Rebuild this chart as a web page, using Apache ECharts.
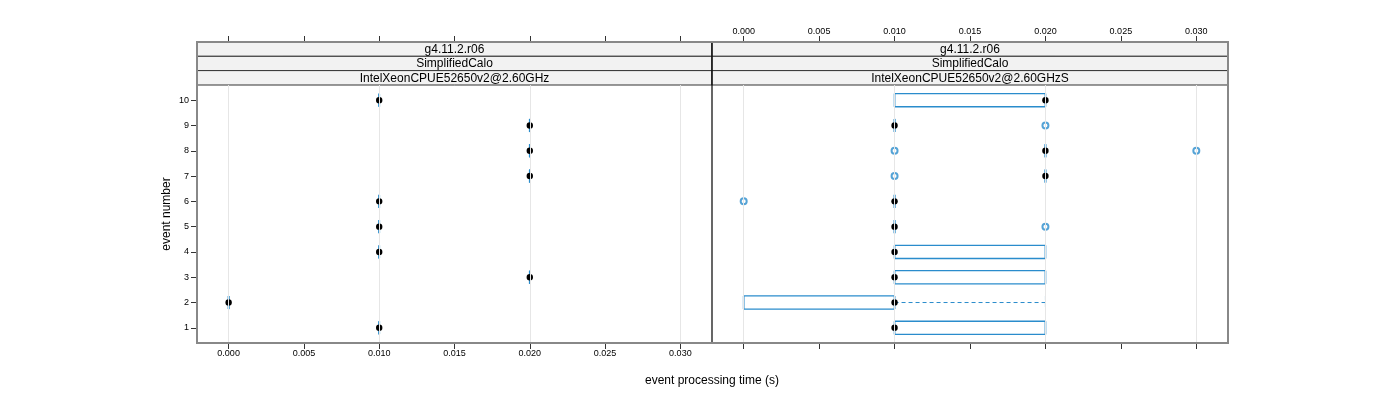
<!DOCTYPE html>
<html><head><meta charset="utf-8">
<script src="https://cdn.jsdelivr.net/npm/echarts@6/dist/echarts.min.js"></script>
<style>html,body{margin:0;padding:0;background:#fff}#c{width:1400px;height:400px}</style>
</head><body><div id="c"></div>
<script>
// ---- data ----
const events = [1, 2, 3, 4, 5, 6, 7, 8, 9, 10];
const xTicks = [0, 0.005, 0.010, 0.015, 0.020, 0.025, 0.030];
const yTicks = [1, 2, 3, 4, 5, 6, 7, 8, 9, 10];
const stripLevel1 = ['g4.11.2.r06', 'g4.11.2.r06'];
const stripLevel2 = ['SimplifiedCalo', 'SimplifiedCalo'];
const stripLevel3 = ['IntelXeonCPUE52650v2@2.60GHz', 'IntelXeonCPUE52650v2@2.60GHzS'];
// left panel (all quantiles equal)
const leftLow  = [0.01, 0.00, 0.02, 0.01, 0.01, 0.01, 0.02, 0.02, 0.02, 0.01];
const leftQ1   = [0.01, 0.00, 0.02, 0.01, 0.01, 0.01, 0.02, 0.02, 0.02, 0.01];
const leftMed  = [0.01, 0.00, 0.02, 0.01, 0.01, 0.01, 0.02, 0.02, 0.02, 0.01];
const leftQ3   = [0.01, 0.00, 0.02, 0.01, 0.01, 0.01, 0.02, 0.02, 0.02, 0.01];
const leftHigh = [0.01, 0.00, 0.02, 0.01, 0.01, 0.01, 0.02, 0.02, 0.02, 0.01];
const leftOutliers = [];
// right panel
const rightLow  = [0.01, 0.00, 0.01, 0.01, 0.01, 0.01, 0.02, 0.02, 0.01, 0.01];
const rightQ1   = [0.01, 0.00, 0.01, 0.01, 0.01, 0.01, 0.02, 0.02, 0.01, 0.01];
const rightMed  = [0.01, 0.01, 0.01, 0.01, 0.01, 0.01, 0.02, 0.02, 0.01, 0.02];
const rightQ3   = [0.02, 0.01, 0.02, 0.02, 0.01, 0.01, 0.02, 0.02, 0.01, 0.02];
const rightHigh = [0.02, 0.02, 0.02, 0.02, 0.01, 0.01, 0.02, 0.02, 0.01, 0.02];
const rightOutliers = [[0.02, 5], [0.00, 6], [0.01, 7], [0.01, 8], [0.03, 8], [0.02, 9]];

const BLUE = '#2a8ccc';
const FONT = 'Liberation Sans';
const X_MIN = -0.0021, X_MAX = 0.0321;
const PANEL_TOP = 85, PANEL_BOTTOM = 343, FRAME_TOP = 42;
const P = [{left: 197, right: 712}, {left: 712, right: 1228}];

function boxData(lo, q1, med, q3, hi) {
  return events.map((e, i) => [e, lo[i], q1[i], med[i], q3[i], hi[i]]);
}

function renderBox(params, api) {
  const y = api.value(0);
  const lo = api.value(1), q1 = api.value(2), med = api.value(3), q3 = api.value(4), hi = api.value(5);
  const h = api.size([0, 1])[1] * 0.52;
  const pLo = api.coord([lo, y]), pQ1 = api.coord([q1, y]), pMed = api.coord([med, y]);
  const pQ3 = api.coord([q3, y]), pHi = api.coord([hi, y]);
  const cy = pMed[1];
  const t = cy - h / 2, b = cy + h / 2;
  const children = [];
  const dashed = {stroke: BLUE, lineWidth: 1, lineDash: [4, 3], fill: null};
  const solid = {stroke: BLUE, lineWidth: 1.3, fill: null};
  const vert = {stroke: BLUE, lineWidth: 1.7, fill: null};
  if (pQ1[0] - pLo[0] > 0.5) {
    children.push({type: 'line', shape: {x1: pLo[0], y1: cy, x2: pQ1[0], y2: cy}, style: dashed});
    children.push({type: 'line', shape: {x1: pLo[0], y1: t, x2: pLo[0], y2: b}, style: dashed});
  }
  if (pHi[0] - pQ3[0] > 0.5) {
    children.push({type: 'line', shape: {x1: pQ3[0], y1: cy, x2: pHi[0], y2: cy}, style: dashed});
    children.push({type: 'line', shape: {x1: pHi[0], y1: t, x2: pHi[0], y2: b}, style: dashed});
  }
  children.push({type: 'line', shape: {x1: pQ1[0], y1: t, x2: pQ1[0], y2: b}, style: vert});
  children.push({type: 'line', shape: {x1: pQ3[0], y1: t, x2: pQ3[0], y2: b}, style: vert});
  if (pQ3[0] - pQ1[0] > 0.5) {
    children.push({type: 'line', shape: {x1: pQ1[0], y1: t, x2: pQ3[0], y2: t}, style: solid});
    children.push({type: 'line', shape: {x1: pQ1[0], y1: b, x2: pQ3[0], y2: b}, style: solid});
  }
  children.push({type: 'circle', shape: {cx: pMed[0], cy: cy, r: 3.2}, style: {fill: '#000'}});
  return {type: 'group', children: children};
}

const gridLineMark = {
  silent: true, symbol: 'none', animation: false,
  label: {show: false},
  lineStyle: {color: '#e6e6e6', type: 'solid', width: 1},
  data: xTicks.map(v => ({xAxis: v}))
};

function xAxisDef(gridIndex, position, showLabel) {
  return {
    type: 'value', gridIndex: gridIndex, position: position, min: X_MIN, max: X_MAX,
    offset: position === 'top' ? (PANEL_TOP - FRAME_TOP) : 0,
    axisLine: {show: false, onZero: false},
    splitLine: {show: false},
    axisTick: {show: true, customValues: xTicks, length: 6, inside: false, lineStyle: {color: '#333', width: 1}},
    axisLabel: {show: showLabel, customValues: xTicks, formatter: v => v.toFixed(3), color: '#000', fontSize: 9, fontFamily: FONT, margin: 6}
  };
}

const chart = echarts.init(document.getElementById('c'), null, {renderer: 'canvas'});

// strips
const graphics = [];
const stripY = [42, 56.3, 70.6, 85];
const strips = [stripLevel1, stripLevel2, stripLevel3];
P.forEach((p, pi) => {
  strips.forEach((lev, li) => {
    graphics.push({type: 'rect', shape: {x: p.left, y: stripY[li], width: p.right - p.left, height: stripY[li + 1] - stripY[li]},
      style: {fill: '#f2f2f2', stroke: '#333', lineWidth: 1}, z: 1});
    graphics.push({type: 'text', x: (p.left + p.right) / 2, y: (stripY[li] + stripY[li + 1]) / 2 + 0.5,
      style: {text: lev[pi], fill: '#000', font: '12px "' + FONT + '"', align: 'center', verticalAlign: 'middle'}, z: 2});
  });
});
graphics.push({type: 'line', shape: {x1: 712, y1: 42, x2: 712, y2: 343}, style: {stroke: '#000', lineWidth: 1.2}, z: 10});
graphics.push({type: 'rect', shape: {x: 197, y: 42, width: 1031, height: 301}, style: {fill: null, stroke: '#888', lineWidth: 2}, z: 11});
graphics.push({type: 'text', x: 712, y: 381, style: {text: 'event processing time (s)', fill: '#000', font: '12px "' + FONT + '"', align: 'center', verticalAlign: 'middle'}});
graphics.push({type: 'text', x: 167, y: 214, rotation: Math.PI / 2,
  style: {text: 'event number', fill: '#000', font: '12px "' + FONT + '"', align: 'center', verticalAlign: 'middle'}});

chart.setOption({
  animation: false,
  backgroundColor: '#fff',
  graphic: graphics,
  grid: [
    {left: 197, width: 515, top: PANEL_TOP, height: PANEL_BOTTOM - PANEL_TOP, show: false},
    {left: 712, width: 516, top: PANEL_TOP, height: PANEL_BOTTOM - PANEL_TOP, show: false}
  ],
  xAxis: [
    xAxisDef(0, 'bottom', true),
    xAxisDef(0, 'top', false),
    xAxisDef(1, 'top', true),
    xAxisDef(1, 'bottom', false)
  ],
  yAxis: [
    {type: 'value', gridIndex: 0, position: 'left', min: 0.4, max: 10.6, axisLine: {show: false, onZero: false}, splitLine: {show: false},
      axisTick: {show: true, customValues: yTicks, length: 6, lineStyle: {color: '#333'}},
      axisLabel: {customValues: yTicks, color: '#000', fontSize: 9, fontFamily: FONT, margin: 8}},
    {type: 'value', gridIndex: 1, min: 0.4, max: 10.6, axisLine: {show: false, onZero: false}, splitLine: {show: false},
      axisTick: {show: false}, axisLabel: {show: false}}
  ],
  series: [
    {type: 'custom', xAxisIndex: 0, yAxisIndex: 0, renderItem: renderBox,
      encode: {x: [1, 2, 3, 4, 5], y: 0}, data: boxData(leftLow, leftQ1, leftMed, leftQ3, leftHigh),
      markLine: gridLineMark, z: 3},
    {type: 'scatter', xAxisIndex: 0, yAxisIndex: 0, data: leftOutliers, symbol: 'emptyCircle', symbolSize: 6,
      itemStyle: {color: BLUE, borderColor: BLUE, borderWidth: 1.5}, z: 4},
    {type: 'custom', xAxisIndex: 2, yAxisIndex: 1, renderItem: renderBox,
      encode: {x: [1, 2, 3, 4, 5], y: 0}, data: boxData(rightLow, rightQ1, rightMed, rightQ3, rightHigh),
      markLine: gridLineMark, z: 3},
    {type: 'scatter', xAxisIndex: 2, yAxisIndex: 1, data: rightOutliers, symbol: 'emptyCircle', symbolSize: 6,
      itemStyle: {color: BLUE, borderColor: BLUE, borderWidth: 1.5}, z: 4}
  ]
});
</script></body></html>
